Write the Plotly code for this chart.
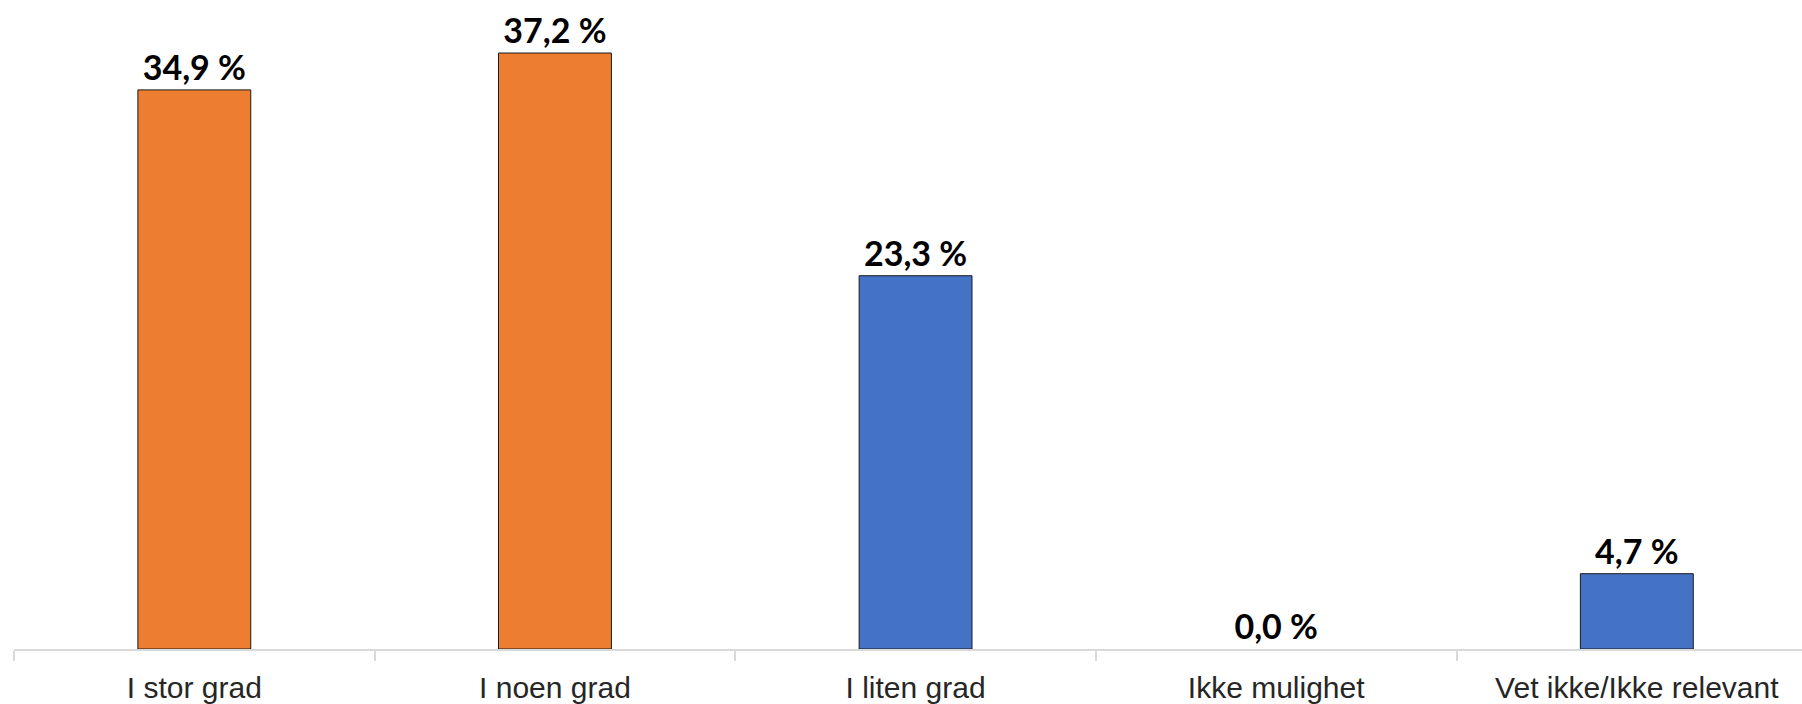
import plotly.graph_objects as go

# Survey answer categories and their shares (percent)
categories = ["I stor grad", "I noen grad", "I liten grad", "Ikke mulighet", "Vet ikke/Ikke relevant"]
shares = [34.9, 37.2, 23.3, 0.0, 4.7]
bar_colors = ["#ED7D31", "#ED7D31", "#4472C4", "#4472C4", "#4472C4"]

labels = [f"{v:.1f}".replace(".", ",") + " %" for v in shares]
# no outline on empty bars so they stay invisible
outline_widths = [1 if v > 0 else 0 for v in shares]

fig = go.Figure(
    go.Bar(
        x=categories,
        y=shares,
        width=0.313,
        marker=dict(color=bar_colors, line=dict(color="#1a1a1a", width=outline_widths)),
        text=labels,
        texttemplate="%{text}",
        textposition="outside",
        textfont=dict(family="Lato", size=34, color="#000000", weight="bold"),
        cliponaxis=False,
    )
)

fig.update_layout(
    width=1802,
    height=704,
    margin=dict(l=14, r=0, t=0, b=55),
    paper_bgcolor="white",
    plot_bgcolor="white",
    showlegend=False,
    bargap=0.687,
)

fig.update_xaxes(
    type="category",
    range=[-0.5, 4.458],
    showline=True,
    linecolor="#D9D9D9",
    linewidth=1.5,
    ticks="outside",
    tickson="boundaries",
    ticklen=10,
    tickcolor="#D9D9D9",
    tickwidth=1.5,
    showgrid=False,
    tickfont=dict(family="Liberation Sans", size=30, color="#262626"),
    ticklabelstandoff=11,
)

fig.update_yaxes(
    range=[0, 40.51],
    visible=False,
    showgrid=False,
    zeroline=False,
)

fig.write_html("out.html")
